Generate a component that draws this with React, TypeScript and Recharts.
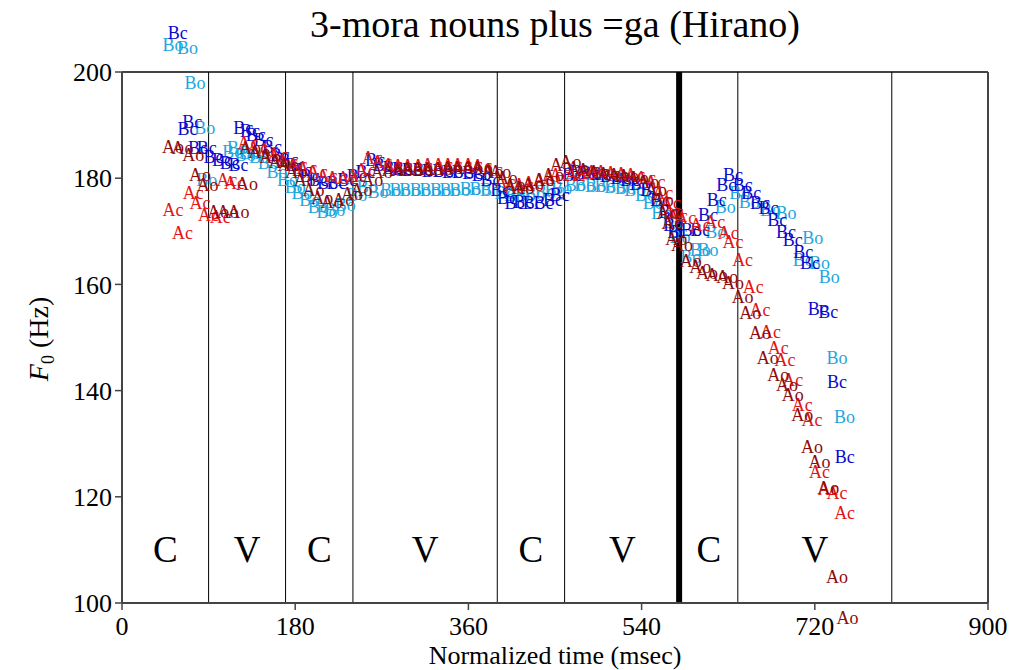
import { ScatterChart, Scatter, XAxis, YAxis, ReferenceLine, ReferenceDot } from 'recharts';

type Pt = { t: number; f: number };

const SERIF = '"Liberation Serif", "Times New Roman", serif';

const X_TICKS = [0, 180, 360, 540, 720, 900];
const Y_TICKS = [100, 120, 140, 160, 180, 200];

// segment boundaries (msec); the thick one marks the accent
const BOUNDARIES = [90, 170, 240, 390, 460, 640, 800];
const ACCENT_LINE = 579;

const SEG_NAMES = ['C', 'V', 'C', 'V', 'C', 'V', 'C', 'V'];
const SEG_MIDS = [45, 130, 205, 315, 425, 520, 610, 720];

// [time (msec), F0 (Hz)]
const AO: [number, number][] = [
    [53, 185.9], [63, 185.7], [74, 184.4], [81, 180.6], [89, 178.7],
    [100, 173.6], [110, 173.6], [121, 173.6], [130, 178.9], [133, 185.7], [143, 184.9], [154, 184.0], [164, 183.1],
    [173, 182.5], [181, 181.2], [190, 179.7], [199, 177.8], [208, 176.3], [218, 175.5], [230, 175.9], [239, 177.0],
    [249, 177.8], [260, 179.7], [270, 181.2], [281, 181.5], [291, 181.5], [301, 181.7], [312, 181.7], [322, 181.7],
    [333, 181.7], [343, 181.9], [353, 181.9], [364, 181.9], [374, 181.9], [385, 181.2],
    [393, 181.2], [400, 180.0], [408, 178.7], [417, 178.2], [427, 178.7], [438, 179.7], [448, 180.6], [456, 182.5],
    [466, 183.1], [474, 181.9], [484, 181.5], [495, 181.2], [505, 180.8], [516, 180.6], [526, 180.4], [536, 180.0],
    [547, 179.3], [555, 177.8], [562, 175.9], [567, 173.4], [572, 171.5], [576, 168.5],
    [582, 167.4], [591, 164.5], [601, 163.3], [608, 162.1], [618, 161.8], [629, 161.4], [635, 160.3],
    [645, 157.6], [653, 154.6], [663, 150.9], [671, 146.1], [682, 142.9], [691, 141.1], [697, 139.2],
    [707, 135.4], [717, 129.4], [725, 126.6], [734, 121.7], [743, 104.9], [754, 97.2],
];

const AC: [number, number][] = [
    [53, 174.0], [63, 169.7], [74, 177.2], [81, 175.3], [90, 173.1],
    [102, 172.7], [109, 179.7], [117, 179.1], [131, 186.6], [141, 185.7], [152, 185.3], [162, 184.4],
    [172, 183.1], [182, 182.5], [192, 181.9], [203, 181.2], [213, 180.4], [223, 180.0], [234, 180.0],
    [244, 180.4], [253, 181.5], [260, 183.8], [270, 183.1], [281, 182.5], [291, 182.3], [301, 182.3], [312, 182.3],
    [322, 182.5], [333, 182.5], [343, 182.5], [353, 182.5], [364, 182.5], [374, 182.3], [385, 181.5],
    [398, 179.3], [408, 178.2], [417, 178.7], [427, 179.1], [438, 179.7], [448, 180.0], [455, 180.6],
    [471, 180.6], [481, 181.0], [492, 181.2], [502, 181.2], [512, 181.0], [523, 180.8], [533, 180.6], [544, 180.0],
    [554, 179.3], [562, 177.2], [570, 175.3], [573, 173.6], [577, 172.9],
    [586, 172.5], [601, 171.2], [616, 171.8], [630, 169.7], [635, 168.0],
    [645, 164.6], [656, 159.5], [663, 155.2], [674, 151.0], [682, 148.0], [689, 145.8], [697, 142.0],
    [707, 137.3], [717, 134.5], [725, 124.7], [734, 121.5], [743, 120.8], [751, 117.0],
];

const BO: [number, number][] = [
    [53, 205.1], [68, 204.5], [76, 197.9], [86, 189.5], [88, 179.7],
    [115, 184.9], [120, 185.7], [128, 184.4], [133, 184.7], [143, 184.0], [152, 182.9], [161, 181.2],
    [172, 179.7], [180, 178.3], [187, 177.2], [195, 175.9], [204, 174.6], [213, 173.6], [221, 174.0], [232, 175.0],
    [244, 176.8], [255, 178.3], [266, 177.4], [279, 177.8], [289, 177.8], [299, 177.8], [310, 177.8], [320, 177.8],
    [331, 177.8], [341, 177.8], [351, 177.8], [362, 178.0], [372, 178.0], [383, 177.8],
    [398, 177.2], [408, 176.8], [419, 176.8], [429, 177.0], [440, 177.4], [450, 177.8], [457, 178.2],
    [471, 178.7], [481, 178.7], [492, 178.5], [502, 178.5], [512, 178.3], [523, 178.2], [533, 177.8], [544, 176.8],
    [552, 175.3], [561, 173.4], [572, 171.8], [580, 168.9],
    [591, 165.2], [601, 166.5], [609, 166.5], [617, 169.9], [627, 174.6], [642, 177.2],
    [652, 175.5], [674, 174.0], [690, 173.4], [708, 164.6], [718, 168.7], [725, 164.0], [735, 161.4],
    [743, 146.1], [751, 135.0],
];

const BC: [number, number][] = [
    [58, 207.3], [68, 189.3], [73, 190.6], [79, 185.7], [88, 185.7],
    [95, 184.0], [104, 183.4], [112, 182.9], [121, 182.5], [126, 189.5], [133, 188.9], [139, 188.1], [147, 187.2],
    [156, 185.9], [164, 184.4],
    [173, 183.4], [180, 182.5], [187, 181.5], [195, 180.4], [204, 179.7], [213, 179.1], [223, 179.1], [234, 179.7],
    [244, 180.4], [253, 181.2], [263, 183.4], [271, 182.5], [281, 181.9], [291, 181.7], [301, 181.5], [312, 181.5],
    [322, 181.4], [333, 181.4], [343, 181.2], [353, 181.2], [364, 181.0], [374, 180.6], [383, 179.7],
    [393, 177.8], [400, 176.3], [408, 175.3], [417, 175.5], [427, 175.3], [438, 175.3], [448, 175.9], [455, 176.8],
    [468, 180.6], [476, 181.2], [486, 181.0], [497, 180.8], [507, 180.4], [518, 180.0], [528, 179.7], [538, 178.9],
    [549, 177.8], [559, 175.9], [568, 173.6], [573, 171.2], [577, 169.9],
    [591, 170.2], [601, 170.2], [609, 173.1], [618, 175.9], [628, 178.7], [635, 180.6],
    [645, 178.7], [654, 177.2], [663, 175.3], [672, 174.4], [681, 172.1], [690, 169.9], [697, 168.4],
    [708, 166.1], [715, 164.0], [723, 155.4], [734, 154.8], [743, 141.6], [751, 127.5],
];

const SERIES = [
    { name: 'Bo', color: '#1fa6de', data: BO },
    { name: 'Bc', color: '#0a0acc', data: BC },
    { name: 'Ac', color: '#e31414', data: AC },
    { name: 'Ao', color: '#8c0c0c', data: AO },
];

const Y_MIN = 100;
const Y_MAX = 200;
const AXIS_COLOR = '#444';

const toPts = (arr: [number, number][]): Pt[] => arr.map(([t, f]) => ({ t, f }));

const marker = (label: string, color: string) => (props: any) => (
    <text
        x={props.cx}
        y={props.cy}
        fill={color}
        fontSize={18}
        fontFamily={SERIF}
        textAnchor="middle"
        dominantBaseline="central"
    >
        {label}
    </text>
);

const segLabel = (props: any) => (
    <text
        x={props.cx}
        y={props.cy}
        fill="#000"
        fontSize={37}
        fontFamily={SERIF}
        textAnchor="middle"
        dominantBaseline="central"
    >
        {props.payload.s}
    </text>
);

const segData = SEG_NAMES.map((s, i) => ({ t: SEG_MIDS[i], f: 110, s }));

export default function App() {
    const tickStyle = { fontFamily: SERIF, fontSize: 26, fill: '#000' };
    return (
        <div style={{ position: 'relative', width: 1010, height: 662 }}>
            <div
                style={{
                    position: 'absolute', left: 114, width: 866, top: -3, textAlign: 'center',
                    fontFamily: SERIF, fontSize: 38, lineHeight: 1, whiteSpace: 'nowrap',
                }}
            >
                3-mora nouns plus =ga (Hirano)
            </div>
            <div
                style={{
                    position: 'absolute', left: 114, width: 866, top: 635, textAlign: 'center',
                    fontFamily: SERIF, fontSize: 26, lineHeight: 1, whiteSpace: 'nowrap',
                }}
            >
                Normalized time (msec)
            </div>
            <div
                style={{
                    position: 'absolute', left: 33, top: 331, transform: 'translate(-50%, -50%) rotate(-90deg)',
                    fontFamily: SERIF, fontSize: 28, lineHeight: 1, whiteSpace: 'nowrap',
                }}
            >
                <i>F</i><sub style={{ fontSize: 18 }}>0</sub> (Hz)
            </div>
            <ScatterChart width={1010} height={662} margin={{ top: 64, right: 30, bottom: 27, left: 44 }}>
                <XAxis
                    type="number"
                    dataKey="t"
                    domain={[0, 900]}
                    ticks={X_TICKS}
                    allowDataOverflow
                    height={40}
                    tickSize={7}
                    tickMargin={7}
                    tick={tickStyle}
                    axisLine={{ stroke: AXIS_COLOR, strokeWidth: 2 }}
                    tickLine={{ stroke: AXIS_COLOR, strokeWidth: 1.5 }}
                />
                <YAxis
                    type="number"
                    dataKey="f"
                    domain={[Y_MIN, Y_MAX]}
                    ticks={Y_TICKS}
                    allowDataOverflow
                    width={70}
                    tickSize={7}
                    tickMargin={3}
                    tick={tickStyle}
                    axisLine={{ stroke: AXIS_COLOR, strokeWidth: 2 }}
                    tickLine={{ stroke: AXIS_COLOR, strokeWidth: 1.5 }}
                />
                <ReferenceLine y={Y_MAX} stroke={AXIS_COLOR} strokeWidth={2} />
                <ReferenceLine x={900} stroke={AXIS_COLOR} strokeWidth={2} />
                {BOUNDARIES.map((b) => (
                    <ReferenceLine key={b} x={b} stroke="#000" strokeWidth={1} />
                ))}
                <ReferenceLine x={ACCENT_LINE} stroke="#000" strokeWidth={6} />
                <Scatter data={segData} shape={segLabel} isAnimationActive={false} />
                {SERIES.map((s) => (
                    <Scatter
                        key={s.name}
                        name={s.name}
                        data={toPts(s.data).filter((p) => p.f >= Y_MIN && p.f <= Y_MAX)}
                        shape={marker(s.name, s.color)}
                        isAnimationActive={false}
                    />
                ))}
                {SERIES.flatMap((s) =>
                    toPts(s.data)
                        .filter((p) => p.f < Y_MIN || p.f > Y_MAX)
                        .map((p, i) => (
                            <ReferenceDot
                                key={`${s.name}-${i}`}
                                x={p.t}
                                y={p.f}
                                ifOverflow="visible"
                                shape={marker(s.name, s.color)}
                            />
                        ))
                )}
            </ScatterChart>
        </div>
    );
}
